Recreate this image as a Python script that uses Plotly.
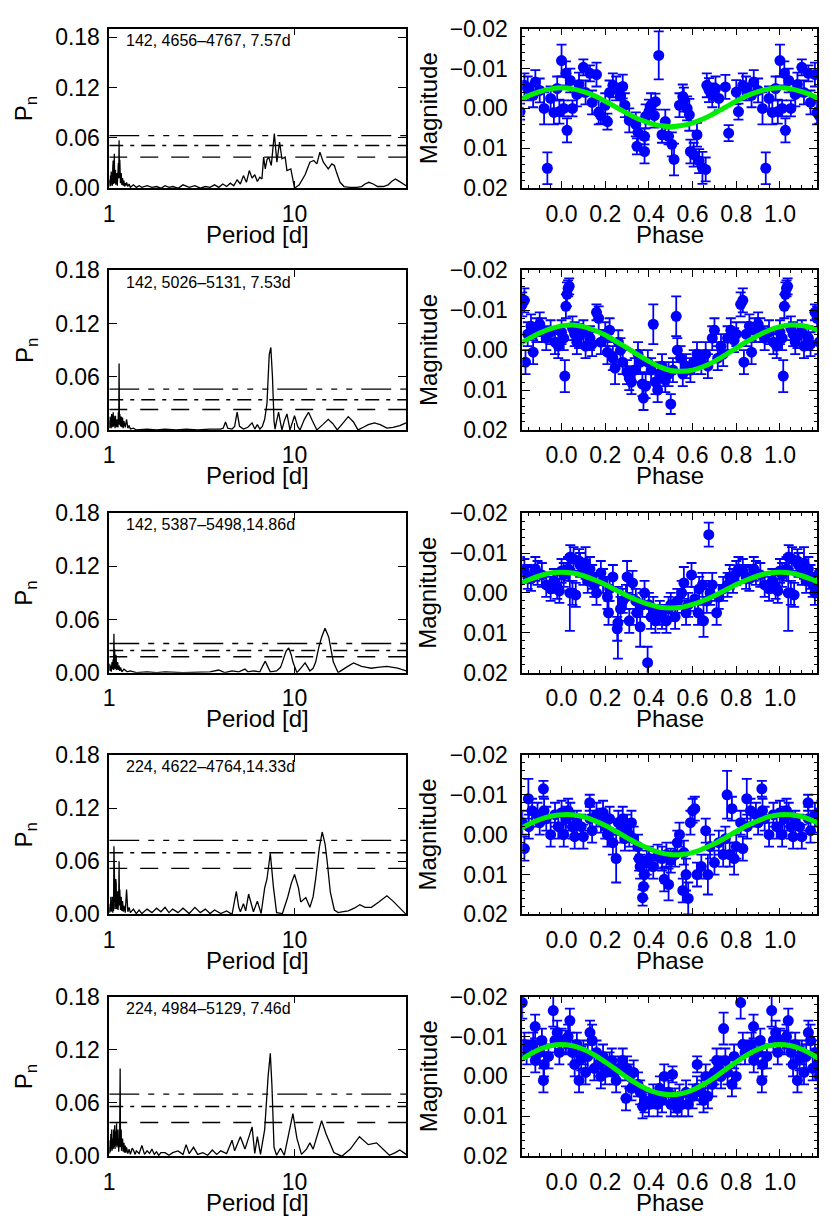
import plotly.graph_objects as go
from plotly.subplots import make_subplots

# ---------------- Periodogram data (period [d], normalized power) ----------------
per1 = [1.00, 1.005, 1.01, 1.015, 1.02, 1.025, 1.03, 1.035, 1.04, 1.045, 1.05, 1.055, 1.06, 1.065, 1.07, 1.075, 1.08,
        1.085, 1.09, 1.095, 1.10, 1.105, 1.11, 1.115, 1.12, 1.125, 1.13, 1.135, 1.14, 1.145, 1.15, 1.155, 1.16, 1.17,
        1.18, 1.19, 1.20, 1.21, 1.22, 1.23, 1.24, 1.26, 1.28, 1.30, 1.35, 1.4, 1.45, 1.5, 1.6, 1.7, 1.8, 1.9, 2.0, 2.1,
        2.2, 2.35, 2.5, 2.7, 2.9, 3.1, 3.3, 3.5, 3.7, 3.9, 4.1, 4.3, 4.5, 4.7, 4.9, 5.1, 5.3, 5.5, 5.7, 5.9, 6.1, 6.3,
        6.5, 6.67, 6.81, 6.95, 7.1, 7.25, 7.49, 7.78, 8.03, 8.3, 8.55, 8.9, 9.1, 9.55, 10.0, 10.6, 11.4, 12.1, 12.7,
        13.2, 13.7, 14.3, 15.2, 15.9, 16.4, 16.9, 17.6, 18.5, 19.9, 21.6, 23.0, 24.0, 25.2, 26.6, 28.0, 30.1, 32.0,
        33.4, 35.0, 36.2, 38.0, 40.0]
pow1 = [0.004, 0.010, 0.002, 0.015, 0.003, 0.020, 0.006, 0.012, 0.003, 0.025, 0.033, 0.005, 0.008, 0.041, 0.006,
        0.018, 0.022, 0.004, 0.014, 0.006, 0.018, 0.003, 0.010, 0.022, 0.030, 0.012, 0.057, 0.012, 0.034, 0.008, 0.006,
        0.014, 0.018, 0.004, 0.012, 0.003, 0.009, 0.002, 0.006, 0.003, 0.007, 0.002, 0.005, 0.001, 0.004, 0.001, 0.003,
        0.001, 0.003, 0.001, 0.002, 0.000, 0.003, 0.001, 0.002, 0.000, 0.004, 0.001, 0.003, 0.000, 0.002, 0.001, 0.004,
        0.001, 0.005, 0.002, 0.006, 0.003, 0.010, 0.005, 0.015, 0.007, 0.021, 0.012, 0.016, 0.008, 0.013, 0.011, 0.037,
        0.023, 0.034, 0.037, 0.027, 0.065, 0.031, 0.055, 0.035, 0.037, 0.021, 0.023, 0.000, 0.004, 0.016, 0.031, 0.033,
        0.029, 0.043, 0.031, 0.023, 0.029, 0.027, 0.018, 0.007, 0.002, 0.001, 0.001, 0.002, 0.005, 0.007, 0.005, 0.002,
        0.002, 0.004, 0.008, 0.011, 0.009, 0.006, 0.003, 0.002]

per2 = [1.00, 1.005, 1.01, 1.015, 1.02, 1.025, 1.03, 1.035, 1.04, 1.045, 1.05, 1.055, 1.06, 1.065, 1.07, 1.075, 1.08,
        1.085, 1.09, 1.095, 1.10, 1.105, 1.11, 1.115, 1.12, 1.125, 1.13, 1.135, 1.14, 1.15, 1.16, 1.17, 1.18, 1.19,
        1.20, 1.22, 1.24, 1.26, 1.28, 1.30, 1.35, 1.4, 1.6, 1.8, 2.0, 2.3, 2.6, 3.0, 3.5, 4.0, 4.12, 4.24, 4.36, 4.6,
        4.75, 4.9, 5.05, 5.3, 5.6, 5.9, 6.1, 6.3, 6.5, 6.7, 6.9, 7.1, 7.3, 7.45, 7.6, 7.75, 7.85, 8.0, 8.2, 8.4, 8.55,
        8.8, 9.1, 9.45, 9.7, 10.0, 10.4, 10.7, 11.3, 11.9, 12.5, 13.2, 14.2, 15.2, 16.1, 17.0, 18.3, 19.5, 20.8, 22.0,
        23.5, 25.0, 27.0, 29.0, 31.5, 34.0, 37.0, 40.0]
pow2 = [0.010, 0.002, 0.015, 0.004, 0.012, 0.002, 0.018, 0.006, 0.010, 0.003, 0.020, 0.004, 0.016, 0.005, 0.012,
        0.002, 0.016, 0.004, 0.010, 0.003, 0.012, 0.004, 0.009, 0.003, 0.020, 0.008, 0.075, 0.006, 0.018, 0.004, 0.015,
        0.003, 0.014, 0.002, 0.010, 0.003, 0.012, 0.002, 0.005, 0.001, 0.002, 0.000, 0.001, 0.000, 0.001, 0.000, 0.001,
        0.000, 0.001, 0.001, 0.002, 0.009, 0.002, 0.001, 0.004, 0.020, 0.004, 0.001, 0.003, 0.008, 0.001, 0.006, 0.001,
        0.004, 0.012, 0.030, 0.085, 0.093, 0.060, 0.010, 0.001, 0.010, 0.020, 0.008, 0.000, 0.010, 0.018, 0.000, 0.008,
        0.016, 0.004, 0.000, 0.012, 0.020, 0.010, 0.000, 0.006, 0.012, 0.007, 0.000, 0.008, 0.015, 0.009, 0.000, 0.003,
        0.006, 0.008, 0.006, 0.002, 0.003, 0.005, 0.008]

per3 = [1.00, 1.005, 1.01, 1.015, 1.02, 1.025, 1.03, 1.035, 1.04, 1.045, 1.05, 1.055, 1.06, 1.065, 1.07, 1.075, 1.08,
        1.085, 1.09, 1.095, 1.10, 1.105, 1.11, 1.12, 1.13, 1.14, 1.15, 1.17, 1.2, 1.25, 1.3, 1.4, 1.6, 1.8, 2.0, 2.5,
        3.0, 3.5, 3.9, 4.2, 4.6, 5.0, 5.4, 5.6, 6.0, 6.5, 6.75, 6.95, 7.2, 7.4, 8.0, 8.4, 8.7, 9.0, 9.3, 9.6, 9.8, 10.3,
        10.9, 11.4, 11.8, 12.1, 12.6, 13.0, 13.5, 14.0, 14.6, 15.3, 15.8, 16.2, 17.2, 18.0, 19.0, 20.8, 22.0, 23.0, 24.5,
        26.0, 28.0, 31.5, 34.0, 36.0, 40.0]
pow3 = [0.003, 0.010, 0.002, 0.006, 0.008, 0.001, 0.004, 0.012, 0.004, 0.009, 0.015, 0.003, 0.044, 0.005, 0.026,
        0.004, 0.006, 0.020, 0.018, 0.003, 0.004, 0.010, 0.012, 0.003, 0.008, 0.002, 0.006, 0.001, 0.004, 0.001, 0.002,
        0.000, 0.001, 0.000, 0.001, 0.000, 0.001, 0.001, 0.003, 0.000, 0.002, 0.001, 0.004, 0.001, 0.002, 0.001, 0.008,
        0.013, 0.006, 0.001, 0.002, 0.006, 0.015, 0.024, 0.028, 0.020, 0.012, 0.000, 0.006, 0.011, 0.006, 0.002, 0.005,
        0.012, 0.028, 0.040, 0.050, 0.040, 0.024, 0.012, 0.000, 0.003, 0.006, 0.011, 0.009, 0.007, 0.006, 0.005, 0.006,
        0.007, 0.006, 0.005, 0.002]

per4 = [1.00, 1.005, 1.01, 1.015, 1.02, 1.025, 1.03, 1.035, 1.04, 1.045, 1.05, 1.055, 1.06, 1.065, 1.07, 1.075, 1.08,
        1.085, 1.09, 1.095, 1.10, 1.105, 1.11, 1.115, 1.12, 1.125, 1.13, 1.135, 1.14, 1.15, 1.16, 1.17, 1.18, 1.19,
        1.20, 1.22, 1.24, 1.26, 1.28, 1.30, 1.35, 1.4, 1.45, 1.5, 1.6, 1.7, 1.8, 1.9, 2.0, 2.1, 2.2, 2.35, 2.5, 2.7,
        2.9, 3.1, 3.3, 3.5, 3.7, 4.0, 4.3, 4.6, 4.75, 4.85, 5.0, 5.1, 5.3, 5.45, 5.65, 5.85, 6.0, 6.3, 6.6, 6.9, 7.1,
        7.4, 7.7, 8.0, 8.6, 9.2, 9.6, 10.0, 10.5, 10.8, 11.5, 12.1, 12.6, 13.0, 13.6, 14.1, 14.6, 15.0, 15.6, 16.4,
        17.2, 18.0, 19.5, 21.0, 22.5, 24.0, 26.0, 28.5, 31.5, 34.0, 37.0, 40.0]
pow4 = [0.008, 0.002, 0.012, 0.004, 0.020, 0.003, 0.012, 0.006, 0.020, 0.002, 0.010, 0.004, 0.077, 0.010, 0.045,
        0.006, 0.015, 0.040, 0.035, 0.006, 0.008, 0.018, 0.026, 0.005, 0.012, 0.020, 0.060, 0.010, 0.028, 0.005, 0.020,
        0.004, 0.015, 0.003, 0.010, 0.002, 0.028, 0.003, 0.008, 0.002, 0.006, 0.001, 0.005, 0.001, 0.006, 0.002, 0.007,
        0.003, 0.008, 0.002, 0.006, 0.002, 0.007, 0.001, 0.008, 0.002, 0.006, 0.001, 0.005, 0.001, 0.004, 0.000, 0.015,
        0.026, 0.008, 0.003, 0.012, 0.004, 0.023, 0.010, 0.003, 0.015, 0.001, 0.030, 0.040, 0.069, 0.030, 0.002, 0.001,
        0.020, 0.035, 0.045, 0.030, 0.014, 0.019, 0.008, 0.020, 0.040, 0.075, 0.093, 0.080, 0.060, 0.025, 0.005, 0.002,
        0.003, 0.004, 0.007, 0.011, 0.008, 0.008, 0.014, 0.021, 0.015, 0.007, 0.000]

per5 = [1.00, 1.005, 1.01, 1.015, 1.02, 1.025, 1.03, 1.035, 1.04, 1.045, 1.05, 1.055, 1.06, 1.065, 1.07, 1.075, 1.08,
        1.085, 1.09, 1.095, 1.10, 1.105, 1.11, 1.115, 1.12, 1.125, 1.13, 1.137, 1.145, 1.15, 1.155, 1.16, 1.165, 1.17,
        1.18, 1.19, 1.20, 1.21, 1.22, 1.23, 1.24, 1.26, 1.28, 1.30, 1.33, 1.35, 1.38, 1.4, 1.45, 1.5, 1.55, 1.6, 1.65,
        1.7, 1.75, 1.8, 1.85, 1.9, 2.0, 2.1, 2.2, 2.35, 2.5, 2.6, 2.7, 2.85, 3.0, 3.2, 3.4, 3.6, 3.8, 4.0, 4.3, 4.6,
        4.75, 5.1, 5.4, 5.9, 6.1, 6.3, 6.55, 6.9, 7.2, 7.4, 7.55, 7.75, 8.0, 8.4, 8.8, 9.4, 9.8, 10.3, 10.9, 11.6,
        12.1, 12.6, 13.3, 14.0, 14.8, 16.3, 18.0, 20.0, 22.4, 25.0, 27.7, 30.0, 32.5, 35.0, 37.0, 40.0]
pow5 = [0.010, 0.003, 0.018, 0.005, 0.025, 0.008, 0.030, 0.006, 0.020, 0.012, 0.008, 0.030, 0.010, 0.020, 0.035,
        0.008, 0.028, 0.012, 0.015, 0.037, 0.010, 0.025, 0.012, 0.030, 0.015, 0.005, 0.020, 0.010, 0.099, 0.010, 0.020,
        0.030, 0.006, 0.015, 0.020, 0.005, 0.015, 0.004, 0.012, 0.004, 0.010, 0.003, 0.008, 0.002, 0.009, 0.007, 0.002,
        0.006, 0.003, 0.012, 0.002, 0.006, 0.003, 0.008, 0.002, 0.005, 0.001, 0.004, 0.004, 0.001, 0.004, 0.006, 0.002,
        0.013, 0.003, 0.010, 0.002, 0.004, 0.001, 0.007, 0.002, 0.006, 0.003, 0.018, 0.006, 0.022, 0.008, 0.033, 0.003,
        0.022, 0.002, 0.030, 0.090, 0.116, 0.080, 0.010, 0.001, 0.009, 0.001, 0.030, 0.048, 0.020, 0.002, 0.008, 0.015,
        0.008, 0.025, 0.040, 0.025, 0.004, 0.000, 0.008, 0.022, 0.013, 0.015, 0.008, 0.001, 0.004, 0.007, 0.002]

# false-alarm threshold levels (top, middle, bottom) for each periodogram
thr1 = [0.0626, 0.0508, 0.0370]
thr2 = [0.0460, 0.0340, 0.0230]
thr3 = [0.0330, 0.0250, 0.0180]
thr4 = [0.0835, 0.0696, 0.0520]
thr5 = [0.0700, 0.0560, 0.0380]

labels = ["142, 4656\u20134767, 7.57d", "142, 5026\u20135131, 7.53d", "142, 5387\u20135498,14.86d",
          "224, 4622\u20134764,14.33d", "224, 4984\u20135129, 7.46d"]

# ---------------- Phase-folded light curves (phase, magnitude, error) ----------------
ph1 = [0.00, 0.01, 0.02, 0.025, 0.04, 0.05, 0.07, 0.08, 0.10, 0.11, 0.13, 0.14, 0.16, 0.17, 0.18, 0.20, 0.21, 0.22,
       0.235, 0.25, 0.27, 0.28, 0.29, 0.31, 0.34, 0.345, 0.35, 0.38, 0.38, 0.385, 0.40, 0.41, 0.425, 0.43, 0.445, 0.46,
       0.475, 0.49, 0.505, 0.515, 0.54, 0.555, 0.56, 0.575, 0.585, 0.59, 0.605, 0.62, 0.63, 0.645, 0.66, 0.665, 0.675,
       0.69, 0.705, 0.72, 0.75, 0.765, 0.80, 0.81, 0.83, 0.845, 0.87, 0.88, 0.90, 0.92, 0.935, 0.95, 0.965, 0.98, 0.99]
mag1 = [-0.0120, 0.0000, -0.0088, 0.0055, -0.0070, 0.0000, -0.0035, -0.0060, -0.0103, -0.0040, -0.0088, -0.0015,
        -0.0085, 0.0010, 0.0018, -0.0008, 0.0033, -0.0040, -0.0058, -0.0050, -0.0032, -0.0055, -0.0008, 0.0030, 0.0040,
        0.0095, 0.0060, 0.0070, 0.0108, 0.0020, 0.0008, -0.0008, 0.0018, -0.0017, -0.0133, 0.0066, 0.0033, 0.0070,
        0.0090, 0.0128, -0.0008, -0.0030, -0.0022, 0.0000, 0.0016, 0.0108, 0.0116, 0.0066, 0.0132, 0.0149, 0.0153,
        -0.0058, -0.0046, -0.0033, -0.0050, -0.0025, -0.0054, 0.0062, -0.0041, 0.0008, -0.0058, -0.0050, -0.0033,
        -0.0066, -0.0045, 0.0000, 0.0150, -0.0025, 0.0010, -0.0050, 0.0008]
err1 = [0.004, 0.002, 0.003, 0.003, 0.003, 0.002, 0.003, 0.003, 0.002, 0.003, 0.002, 0.003, 0.003, 0.003, 0.002, 0.003,
        0.002, 0.003, 0.003, 0.003, 0.003, 0.003, 0.003, 0.003, 0.003, 0.002, 0.003, 0.002, 0.003, 0.003, 0.003, 0.003,
        0.003, 0.002, 0.006, 0.002, 0.003, 0.002, 0.003, 0.004, 0.003, 0.003, 0.003, 0.003, 0.004, 0.003, 0.003, 0.003,
        0.003, 0.004, 0.003, 0.003, 0.003, 0.003, 0.003, 0.003, 0.003, 0.002, 0.003, 0.002, 0.003, 0.003, 0.003, 0.003,
        0.003, 0.004, 0.004, 0.003, 0.003, 0.003, 0.003]

ph2 = [0.00, 0.01, 0.015, 0.02, 0.025, 0.03, 0.035, 0.05, 0.06, 0.07, 0.08, 0.10, 0.11, 0.13, 0.14, 0.16, 0.17, 0.18,
       0.20, 0.21, 0.22, 0.235, 0.245, 0.26, 0.27, 0.28, 0.30, 0.31, 0.32, 0.335, 0.35, 0.36, 0.37, 0.375, 0.385, 0.395,
       0.41, 0.42, 0.43, 0.44, 0.45, 0.46, 0.475, 0.49, 0.50, 0.51, 0.525, 0.53, 0.545, 0.555, 0.57, 0.59, 0.605, 0.62,
       0.64, 0.66, 0.67, 0.69, 0.70, 0.715, 0.73, 0.74, 0.76, 0.775, 0.79, 0.80, 0.82, 0.83, 0.835, 0.845, 0.86, 0.87,
       0.885, 0.90, 0.91, 0.93, 0.95, 0.97, 0.985]
mag2 = [-0.0045, -0.0030, 0.0065, -0.0110, -0.0140, -0.0155, -0.0160, -0.0055, -0.0040, -0.0020, -0.0035, -0.0045,
        -0.0010, -0.0030, -0.0015, -0.0095, -0.0080, -0.0020, -0.0040, 0.0005, -0.0050, 0.0020, 0.0045, -0.0020, 0.0000,
        0.0030, 0.0055, 0.0070, 0.0080, 0.0050, 0.0010, 0.0030, 0.0085, 0.0120, 0.0090, 0.0030, 0.0050, -0.0065, 0.0080,
        0.0100, 0.0060, 0.0040, 0.0075, 0.0060, 0.0135, 0.0050, -0.0085, 0.0000, 0.0020, 0.0060, 0.0040, 0.0050, 0.0030,
        0.0010, 0.0030, 0.0010, 0.0040, -0.0030, -0.0050, 0.0020, -0.0010, 0.0010, -0.0030, -0.0050, -0.0025, -0.0040,
        -0.0115, -0.0125, 0.0030, -0.0040, -0.0060, 0.0005, -0.0050, -0.0065, -0.0050, -0.0030, -0.0045, -0.0020,
        -0.0010]
err2 = [0.003, 0.003, 0.004, 0.003, 0.003, 0.002, 0.002, 0.003, 0.003, 0.003, 0.003, 0.003, 0.003, 0.003, 0.003, 0.002,
        0.003, 0.003, 0.003, 0.003, 0.003, 0.003, 0.004, 0.003, 0.003, 0.003, 0.003, 0.003, 0.003, 0.003, 0.003, 0.003,
        0.003, 0.003, 0.003, 0.003, 0.003, 0.005, 0.003, 0.003, 0.003, 0.003, 0.003, 0.003, 0.0025, 0.003, 0.005, 0.003,
        0.003, 0.003, 0.003, 0.003, 0.003, 0.003, 0.003, 0.003, 0.003, 0.003, 0.003, 0.003, 0.003, 0.003, 0.003, 0.003,
        0.003, 0.003, 0.003, 0.003, 0.003, 0.003, 0.003, 0.003, 0.003, 0.003, 0.003, 0.003, 0.003, 0.003, 0.003]

ph3 = [0.00, 0.01, 0.038, 0.03, 0.04, 0.05, 0.055, 0.065, 0.08, 0.085, 0.10, 0.11, 0.12, 0.13, 0.14, 0.15, 0.16, 0.18,
       0.19, 0.21, 0.215, 0.22, 0.235, 0.258, 0.255, 0.27, 0.28, 0.295, 0.30, 0.31, 0.325, 0.34, 0.345, 0.36, 0.37,
       0.38, 0.394, 0.40, 0.41, 0.42, 0.43, 0.45, 0.46, 0.48, 0.49, 0.50, 0.52, 0.53, 0.55, 0.56, 0.57, 0.58, 0.595,
       0.61, 0.625, 0.63, 0.645, 0.65, 0.665, 0.674, 0.68, 0.69, 0.71, 0.72, 0.74, 0.76, 0.77, 0.785, 0.80, 0.81, 0.83,
       0.845, 0.86, 0.88, 0.89, 0.91, 0.93, 0.95, 0.965, 0.98, 0.99]
mag3 = [-0.0055, -0.0045, 0.0000, -0.0060, -0.0090, 0.0000, -0.0085, 0.0005, -0.0080, -0.0070, -0.0050, -0.0075,
        -0.0030, -0.0060, -0.0040, -0.0020, 0.0000, -0.0050, -0.0030, 0.0010, 0.0050, -0.0010, -0.0040, 0.0075, 0.0090,
        0.0040, 0.0020, 0.0010, -0.0040, 0.0070, -0.0025, 0.0020, 0.0050, 0.0085, 0.0030, 0.0000, 0.0175, 0.0030,
        0.0060, 0.0040, 0.0070, 0.0050, 0.0060, 0.0070, 0.0040, 0.0030, 0.0060, 0.0020, 0.0000, -0.0025, 0.0050, 0.0030,
        -0.0045, 0.0015, 0.0050, -0.0010, -0.0020, 0.0070, 0.0020, -0.0146, 0.0000, -0.0020, 0.0050, 0.0010, -0.0010,
        -0.0020, -0.0040, -0.0030, -0.0050, -0.0060, -0.0055, -0.0040, -0.0035, -0.0060, -0.0050, -0.0045, -0.0020,
        -0.0010, -0.0030, -0.0015, -0.0005]
err3 = [0.003, 0.003, 0.0095, 0.003, 0.003, 0.003, 0.003, 0.003, 0.003, 0.003, 0.003, 0.004, 0.003, 0.003, 0.003,
        0.003, 0.003, 0.003, 0.003, 0.003, 0.003, 0.003, 0.003, 0.009, 0.003, 0.003, 0.003, 0.003, 0.004, 0.003, 0.003,
        0.003, 0.003, 0.005, 0.003, 0.003, 0.004, 0.003, 0.003, 0.003, 0.003, 0.003, 0.003, 0.003, 0.003, 0.003, 0.003,
        0.003, 0.003, 0.004, 0.003, 0.003, 0.003, 0.003, 0.003, 0.003, 0.003, 0.004, 0.003, 0.003, 0.003, 0.003, 0.003,
        0.003, 0.003, 0.003, 0.003, 0.003, 0.003, 0.003, 0.003, 0.003, 0.003, 0.003, 0.003, 0.003, 0.003, 0.003, 0.003,
        0.003, 0.003]

ph4 = [0.00, 0.01, 0.02, 0.03, 0.04, 0.05, 0.06, 0.07, 0.09, 0.10, 0.129, 0.13, 0.14, 0.16, 0.18, 0.19, 0.20, 0.21,
       0.22, 0.235, 0.25, 0.26, 0.27, 0.28, 0.29, 0.30, 0.31, 0.32, 0.33, 0.35, 0.355, 0.36, 0.371, 0.375, 0.38, 0.39,
       0.40, 0.42, 0.44, 0.46, 0.47, 0.48, 0.49, 0.50, 0.52, 0.53, 0.54, 0.555, 0.56, 0.57, 0.58, 0.59, 0.60, 0.61,
       0.62, 0.64, 0.66, 0.67, 0.68, 0.70, 0.72, 0.74, 0.75, 0.758, 0.77, 0.78, 0.79, 0.80, 0.82, 0.83, 0.848, 0.85,
       0.865, 0.917, 0.89, 0.90, 0.92, 0.93, 0.95, 0.97, 0.985]
mag4 = [-0.0055, 0.0000, -0.0040, -0.0060, -0.0050, -0.0020, 0.0005, -0.0030, -0.0020, 0.0005, -0.0080, -0.0040,
        -0.0010, -0.0050, -0.0035, -0.0055, -0.0020, 0.0000, -0.0040, 0.0020, 0.0060, -0.0030, -0.0010, -0.0040, 0.0010,
        -0.0020, 0.0000, -0.0030, 0.0010, 0.0030, 0.0060, 0.0080, 0.0158, 0.0130, 0.0100, 0.0070, 0.0060, 0.0080, 0.0055,
        0.0060, 0.0112, 0.0050, 0.0125, 0.0065, 0.0050, 0.0020, 0.0000, 0.0140, 0.0045, 0.0100, 0.0160, -0.0030,
        -0.0060, -0.0065, 0.0100, 0.0080, -0.0010, 0.0100, 0.0030, 0.0070, 0.0020, 0.0050, 0.0010, -0.0100, 0.0050,
        -0.0065, 0.0060, 0.0030, -0.0030, 0.0035, -0.0090, -0.0020, -0.0060, -0.0115, -0.0050, -0.0030, -0.0060,
        -0.0040, 0.0000, -0.0050, -0.0020]
err4 = [0.003, 0.003, 0.003, 0.003, 0.003, 0.003, 0.003, 0.003, 0.003, 0.003, 0.002, 0.003, 0.003, 0.003, 0.003, 0.003,
        0.003, 0.003, 0.003, 0.003, 0.006, 0.003, 0.003, 0.003, 0.003, 0.003, 0.003, 0.003, 0.003, 0.003, 0.003, 0.003,
        0.002, 0.003, 0.003, 0.003, 0.003, 0.003, 0.003, 0.003, 0.003, 0.003, 0.004, 0.003, 0.003, 0.003, 0.003, 0.003,
        0.003, 0.004, 0.004, 0.003, 0.003, 0.003, 0.003, 0.003, 0.003, 0.005, 0.003, 0.003, 0.003, 0.003, 0.003, 0.006,
        0.003, 0.003, 0.004, 0.003, 0.003, 0.003, 0.005, 0.003, 0.003, 0.002, 0.003, 0.003, 0.003, 0.003, 0.003, 0.003,
        0.003]

ph5 = [0.00, 0.02, 0.03, 0.038, 0.05, 0.06, 0.07, 0.08, 0.09, 0.10, 0.11, 0.12, 0.13, 0.14, 0.15, 0.16, 0.17, 0.18,
       0.19, 0.20, 0.22, 0.23, 0.24, 0.25, 0.26, 0.28, 0.295, 0.30, 0.31, 0.32, 0.33, 0.35, 0.36, 0.371, 0.38, 0.40,
       0.42, 0.44, 0.45, 0.46, 0.47, 0.508, 0.49, 0.50, 0.52, 0.53, 0.54, 0.55, 0.57, 0.58, 0.621, 0.60, 0.62, 0.64,
       0.65, 0.66, 0.67, 0.69, 0.70, 0.71, 0.72, 0.73, 0.742, 0.75, 0.76, 0.78, 0.79, 0.80, 0.82, 0.83, 0.84, 0.879,
       0.87, 0.88, 0.90, 0.91, 0.92, 0.917, 0.94, 0.962, 0.97, 0.98, 0.99]
mag5 = [-0.0090, -0.0085, -0.0100, -0.0140, -0.0060, -0.0030, -0.0080, 0.0010, -0.0045, -0.0060, -0.0010, -0.0050,
        -0.0110, -0.0090, -0.0020, -0.0060, -0.0030, 0.0000, -0.0050, -0.0010, -0.0030, -0.0040, -0.0010, 0.0010,
        -0.0020, -0.0040, 0.0055, -0.0020, 0.0000, 0.0030, -0.0010, 0.0020, 0.0040, 0.0075, 0.0060, 0.0070, 0.0050,
        0.0070, 0.0030, 0.0060, 0.0000, -0.0005, 0.0040, 0.0070, 0.0060, 0.0080, 0.0050, 0.0070, 0.0040, 0.0070,
        -0.0030, 0.0050, 0.0030, 0.0040, 0.0060, 0.0000, 0.0050, 0.0020, -0.0010, -0.0040, -0.0020, 0.0000, -0.0120,
        -0.0040, -0.0010, 0.0020, -0.0050, 0.0000, -0.0185, -0.0080, -0.0060, -0.0125, -0.0080, -0.0040, -0.0060,
        -0.0090, -0.0030, 0.0010, -0.0050, -0.0165, -0.0090, -0.0110, -0.0060]
err5 = [0.003, 0.003, 0.003, 0.003, 0.003, 0.003, 0.003, 0.003, 0.003, 0.003, 0.003, 0.003, 0.003, 0.004, 0.003, 0.003,
        0.003, 0.003, 0.003, 0.003, 0.003, 0.003, 0.003, 0.003, 0.003, 0.003, 0.003, 0.003, 0.003, 0.003, 0.003, 0.003,
        0.003, 0.003, 0.003, 0.003, 0.003, 0.003, 0.003, 0.003, 0.003, 0.002, 0.003, 0.003, 0.003, 0.002, 0.003, 0.003,
        0.003, 0.003, 0.002, 0.003, 0.003, 0.003, 0.003, 0.003, 0.003, 0.003, 0.003, 0.003, 0.003, 0.003, 0.004, 0.003,
        0.003, 0.003, 0.003, 0.003, 0.004, 0.003, 0.003, 0.003, 0.003, 0.003, 0.003, 0.003, 0.003, 0.003, 0.003, 0.004,
        0.003, 0.003, 0.003]

# sinusoidal fit curves, sampled every 0.05 in phase from -0.2 to 1.2
fit_phase = [-0.20, -0.15, -0.10, -0.05, 0.00, 0.05, 0.10, 0.15, 0.20, 0.25, 0.30, 0.35, 0.40, 0.45, 0.50, 0.55, 0.60,
             0.65, 0.70, 0.75, 0.80, 0.85, 0.90, 0.95, 1.00, 1.05, 1.10, 1.15, 1.20]
fit1 = [-0.0018, -0.0032, -0.0042, -0.0049, -0.0052, -0.0049, -0.0042, -0.0032, -0.0018, -0.0003, 0.0012, 0.0026,
        0.0036, 0.0043, 0.0046, 0.0043, 0.0036, 0.0026, 0.0012, -0.0003, -0.0018, -0.0032, -0.0042, -0.0049, -0.0052,
        -0.0049, -0.0042, -0.0032, -0.0018]
fit2 = [-0.0013, -0.0029, -0.0043, -0.0054, -0.0061, -0.0063, -0.0059, -0.0050, -0.0038, -0.0022, -0.0006, 0.0012,
        0.0028, 0.0042, 0.0051, 0.0053, 0.0050, 0.0041, 0.0028, 0.0012, -0.0005, -0.0022, -0.0037, -0.0050, -0.0059,
        -0.0063, -0.0062, -0.0055, -0.0044]
fit3 = [-0.0021, -0.0033, -0.0043, -0.0050, -0.0052, -0.0050, -0.0043, -0.0033, -0.0021, -0.0007, 0.0007, 0.0019,
        0.0029, 0.0036, 0.0038, 0.0036, 0.0029, 0.0019, 0.0007, -0.0007, -0.0021, -0.0033, -0.0043, -0.0050, -0.0052,
        -0.0050, -0.0043, -0.0033, -0.0021]
fit4 = [-0.0012, -0.0026, -0.0038, -0.0046, -0.0050, -0.0050, -0.0045, -0.0035, -0.0023, -0.0008, 0.0008, 0.0023,
        0.0035, 0.0045, 0.0050, 0.0050, 0.0045, 0.0035, 0.0023, 0.0008, -0.0008, -0.0023, -0.0035, -0.0045, -0.0050,
        -0.0050, -0.0045, -0.0035, -0.0023]
fit5 = [-0.0036, -0.0054, -0.0068, -0.0077, -0.0080, -0.0077, -0.0068, -0.0054, -0.0036, -0.0017, 0.0003, 0.0020,
        0.0034, 0.0043, 0.0046, 0.0043, 0.0034, 0.0020, 0.0003, -0.0017, -0.0036, -0.0054, -0.0068, -0.0077, -0.0080,
        -0.0077, -0.0068, -0.0054, -0.0036]

periods = [per1, per2, per3, per4, per5]
powers = [pow1, pow2, pow3, pow4, pow5]
thresholds = [thr1, thr2, thr3, thr4, thr5]
phases = [ph1, ph2, ph3, ph4, ph5]
mags = [mag1, mag2, mag3, mag4, mag5]
errs = [err1, err2, err3, err4, err5]
fits = [fit1, fit2, fit3, fit4, fit5]
pn_top = [0.19, 0.18, 0.18, 0.18, 0.18]

# ---------------- Figure ----------------
W, H = 830, 1223
FONT = "Liberation Sans, Arial, Helvetica, sans-serif"
tops = [16, 263, 511, 758, 1005]
BOX_H = 163
LX = (104, 403)
RX = (520, 817)
TICK_SIZE = 23
TITLE_SIZE = 24

fig = make_subplots(rows=5, cols=2)

dashes = ["30px,9px,6px,9px,6px,9px,6px,9px", "14px,7px,4px,7px", "18px,13px"]
blue = "#0000ff"
green = "#00ee00"

annotations = []
for r in range(5):
    row = r + 1
    # periodogram
    fig.add_trace(go.Scatter(x=periods[r], y=powers[r], mode="lines",
                             line=dict(color="black", width=1.3), showlegend=False, hoverinfo="skip"),
                  row=row, col=1)
    for k, t in enumerate(thresholds[r]):
        fig.add_trace(go.Scatter(x=[1.0, 40.0], y=[t, t], mode="lines",
                                 line=dict(color="black", width=1.4, dash=dashes[k]),
                                 showlegend=False, hoverinfo="skip"), row=row, col=1)
    # phase-folded light curve (repeat beyond 0..1)
    p = phases[r]; m = mags[r]; e = errs[r]
    px_ = [v - 1 for v in p if v > 0.8] + list(p) + [v + 1 for v in p if v < 0.2]
    my_ = [m[i] for i, v in enumerate(p) if v > 0.8] + list(m) + [m[i] for i, v in enumerate(p) if v < 0.2]
    ey_ = [e[i] for i, v in enumerate(p) if v > 0.8] + list(e) + [e[i] for i, v in enumerate(p) if v < 0.2]
    fig.add_trace(go.Scatter(x=px_, y=my_, mode="markers",
                             marker=dict(color=blue, size=11, line=dict(width=0)),
                             error_y=dict(type="data", array=ey_, color=blue, thickness=1.8, width=5),
                             showlegend=False, hoverinfo="skip"), row=row, col=2)
    fig.add_trace(go.Scatter(x=fit_phase, y=fits[r], mode="lines", line=dict(color=green, width=5, shape="spline"),
                             showlegend=False, hoverinfo="skip"), row=row, col=2)

    top = tops[r]
    y1 = 1 - top / H
    y0 = 1 - (top + BOX_H) / H
    li = 2 * r + 1
    ri = 2 * r + 2
    axis_common = dict(showgrid=False, zeroline=False, showline=True, linecolor="black", linewidth=1.5,
                       ticks="inside", tickcolor="black", tickwidth=1.2,
                       tickfont=dict(family=FONT, size=TICK_SIZE, color="black"))
    fig.layout[f"xaxis{li}"].update(domain=[LX[0] / W, LX[1] / W], type="log", range=[0, 1.602],
                                    tickvals=[1, 10], ticktext=["1", "10"], ticklen=7, mirror="ticks",
                                    ticklabelstandoff=4, **axis_common)
    fig.layout[f"yaxis{li}"].update(domain=[y0, y1], range=[0, pn_top[r]], tickvals=[0, 0.06, 0.12, 0.18],
                                    ticktext=["0.00", "0.06", "0.12", "0.18"], ticklen=8, mirror="ticks",
                                    ticklabelstandoff=3, **axis_common)
    fig.layout[f"xaxis{ri}"].update(domain=[RX[0] / W, RX[1] / W], range=[-0.18, 1.17],
                                    tickvals=[0, 0.2, 0.4, 0.6, 0.8, 1.0],
                                    ticktext=["0.0", "0.2", "0.4", "0.6", "0.8", "1.0"], ticklen=7,
                                    mirror="allticks", ticklabelstandoff=4,
                                    minor=dict(ticks="inside", ticklen=3, tickcolor="black", dtick=0.05, tick0=0,
                                               showgrid=False),
                                    **axis_common)
    fig.layout[f"yaxis{ri}"].update(domain=[y0, y1], range=[0.02, -0.02],
                                    tickvals=[-0.02, -0.01, 0.0, 0.01, 0.02],
                                    ticktext=["\u22120.02", "\u22120.01", "0.00", "0.01", "0.02"], ticklen=8,
                                    mirror="allticks", ticklabelstandoff=8,
                                    minor=dict(ticks="inside", ticklen=3, tickcolor="black", dtick=0.002,
                                               tick0=0, showgrid=False),
                                    **axis_common)

    ymid = 1 - (top + BOX_H / 2) / H
    ytitle = 1 - (top + BOX_H + 47) / H
    annotations += [
        dict(text=labels[r], x=119 / W, y=1 - (top + 12) / H, xref="paper", yref="paper",
             xanchor="left", yanchor="middle", showarrow=False, font=dict(family=FONT, size=16, color="black")),
        dict(text="Period [d]", x=(LX[0] + LX[1]) / 2 / W, y=ytitle, xref="paper", yref="paper",
             xanchor="center", yanchor="middle", showarrow=False,
             font=dict(family=FONT, size=TITLE_SIZE, color="black")),
        dict(text="Phase", x=(RX[0] + RX[1]) / 2 / W, y=ytitle, xref="paper", yref="paper",
             xanchor="center", yanchor="middle", showarrow=False,
             font=dict(family=FONT, size=TITLE_SIZE, color="black")),
        dict(text="P<sub>n</sub>", x=20 / W, y=ymid, xref="paper", yref="paper", textangle=-90,
             xanchor="center", yanchor="middle", showarrow=False,
             font=dict(family=FONT, size=TITLE_SIZE, color="black")),
        dict(text="Magnitude", x=425 / W, y=ymid, xref="paper", yref="paper", textangle=-90,
             xanchor="center", yanchor="middle", showarrow=False,
             font=dict(family=FONT, size=TITLE_SIZE, color="black")),
    ]

fig.update_layout(width=W, height=H, autosize=False, margin=dict(l=0, r=0, t=0, b=0),
                  plot_bgcolor="white", paper_bgcolor="white", annotations=annotations,
                  font=dict(family=FONT, color="black"))

fig.write_html("out.html", config={"displayModeBar": False},
               post_script="document.body.style.margin='0px';document.body.style.overflow='hidden';")
